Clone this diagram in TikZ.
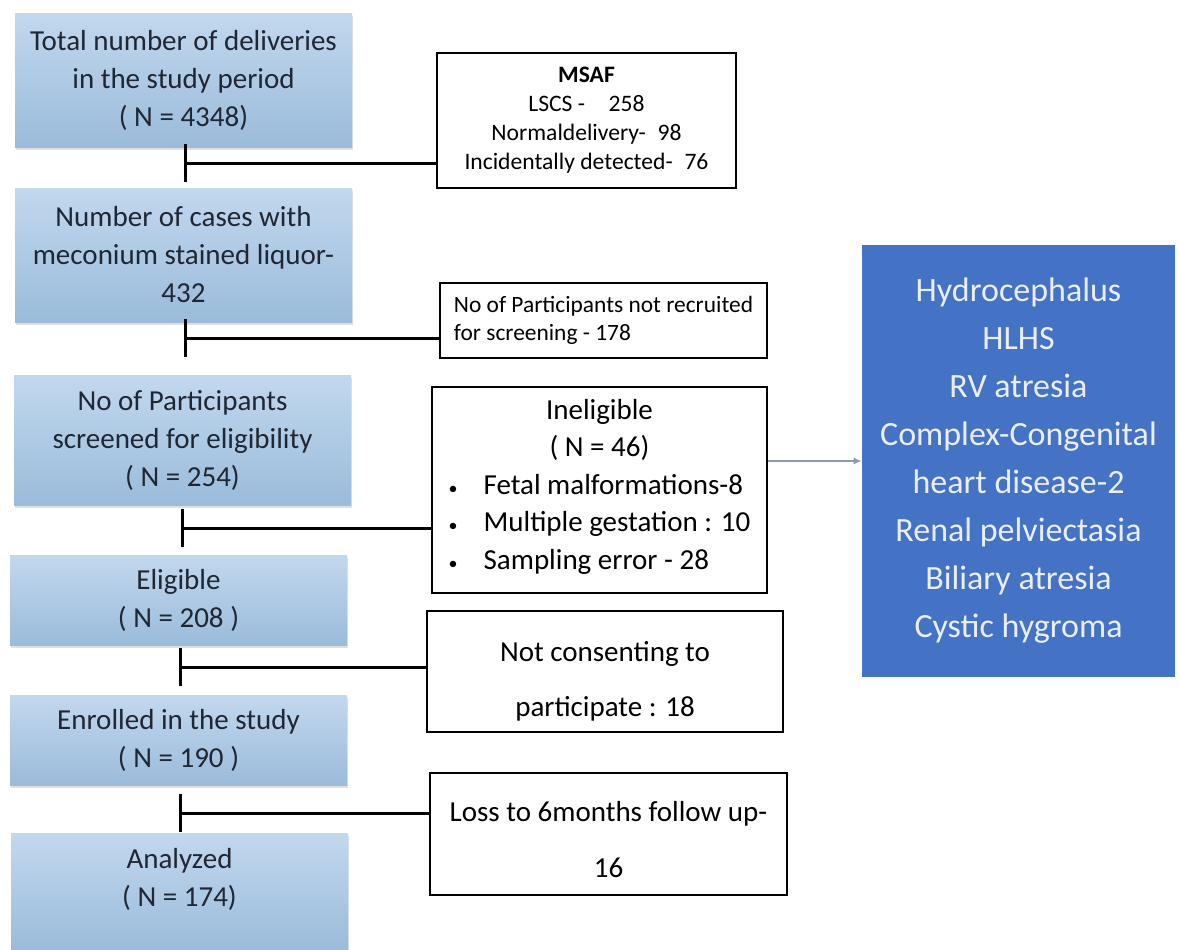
\documentclass[tikz,border=0pt]{standalone}
\usepackage{fontspec}
\setmainfont{Carlito}
\usetikzlibrary{arrows.meta,shadows}
\definecolor{sky}{HTML}{A1C3E4}
\definecolor{royal}{HTML}{4472C4}
\definecolor{ink}{HTML}{1E2733}
\definecolor{steel}{HTML}{8E9AAB}

\begin{document}
\begin{tikzpicture}[x=.5pt,y=-.5pt,
  stage/.style={top color=sky!65!white,middle color=sky,bottom color=sky!96!black,text=ink,
    minimum width=168.5pt,align=center,inner sep=2pt,font=\fontsize{14.5}{19}\selectfont,
    drop shadow={shadow xshift=.6pt,shadow yshift=-1.4pt,opacity=.25}},
  side/.style={draw,line width=1.3pt,fill=white,align=center,inner sep=2pt},
  cut/.style={line width=1.5pt,{Bar[width=19pt]}-}]
\useasboundingbox (0,0) rectangle (1178,949);
% main column
\node[stage,minimum height=67pt] (total) at (183.5,80) {Total number of deliveries\\in the study period\\( N = 4348)};
\node[stage,minimum height=67pt] (cases) at (183.5,255) {Number of cases with\\meconium stained liquor-\\432};
\node[stage,minimum height=65pt] (screened) at (182.5,440) {No of Participants\\screened for eligibility\\( N = 254)};
\node[stage,minimum height=45pt] (eligible) at (178.5,600) {Eligible\\( N = 208 )};
\node[stage,minimum height=45pt] (enrolled) at (178.5,740) {Enrolled in the study\\( N = 190 )};
\node[stage,minimum height=58pt] (analyzed) at (179.5,891) {Analyzed\\( N = 174)\rule[-14pt]{0pt}{14pt}};
% exclusions
\node[side,minimum width=149.5pt,minimum height=67.5pt,font=\fontsize{11.8}{14.5}\selectfont] (msaf) at (586.5,120.5)
  {\textbf{MSAF}\\LSCS -\quad 258\\Normaldelivery-\enspace 98\\Incidentally detected-\enspace 76};
\node[side,minimum width=163.5pt,minimum height=37.5pt,align=left,font=\fontsize{11.7}{14}\selectfont] (recruit) at (603.5,320.5)
  {No of Participants not recruited\\for screening - 178};
\node[side,minimum width=167.5pt,minimum height=103pt,font=\fontsize{14.5}{18.75}\selectfont] (inelig) at (599.5,490)
  {Ineligible\\( N = 46)\\\begin{tabular}[t]{@{}l@{\hspace{13pt}}l@{}}{\fontsize{9}{9}\selectfont\textbullet}&Fetal malformations-8\\
   {\fontsize{9}{9}\selectfont\textbullet}&Multiple gestation : 10\\{\fontsize{9}{9}\selectfont\textbullet}&Sampling error - 28\end{tabular}};
\node[side,minimum width=178pt,minimum height=60.5pt,font=\fontsize{14.5}{27.5}\selectfont] (consent) at (605,671.5)
  {\rule{0pt}{20pt}Not consenting to\\participate : 18};
\node[side,minimum width=178.5pt,minimum height=61pt,font=\fontsize{14.5}{28}\selectfont] (loss) at (608.5,834)
  {\rule{0pt}{16pt}Loss to 6months follow up-\\16};
\node[fill=royal,text=white!88!royal,minimum width=156.5pt,minimum height=216pt,align=center,
  font=\fontsize{17}{24}\selectfont] (defects) at (1018.5,461)
  {Hydrocephalus\\HLHS\\RV atresia\\Complex-Congenital\\heart disease-2\\Renal pelviectasia\\Biliary atresia\\Cystic hygroma};
% connectors
\coordinate (g1) at (183.5,163);
\coordinate (g2) at (183.5,338);
\coordinate (g3) at (181,528);
\coordinate (g4) at (178.5,667);
\coordinate (g5) at (178.5,813);
\draw[cut] (g1) -- (g1 -| msaf.west);
\draw[cut] (g2) -- (g2 -| recruit.west);
\draw[cut] (g3) -- (g3 -| inelig.west);
\draw[cut] (g4) -- (g4 -| consent.west);
\draw[cut] (g5) -- (g5 -| loss.west);
\draw[steel,line width=.6pt,-{Latex[length=4pt,width=3.5pt]}] (inelig.east |- defects.west) -- (defects.west);
\end{tikzpicture}
\end{document}
